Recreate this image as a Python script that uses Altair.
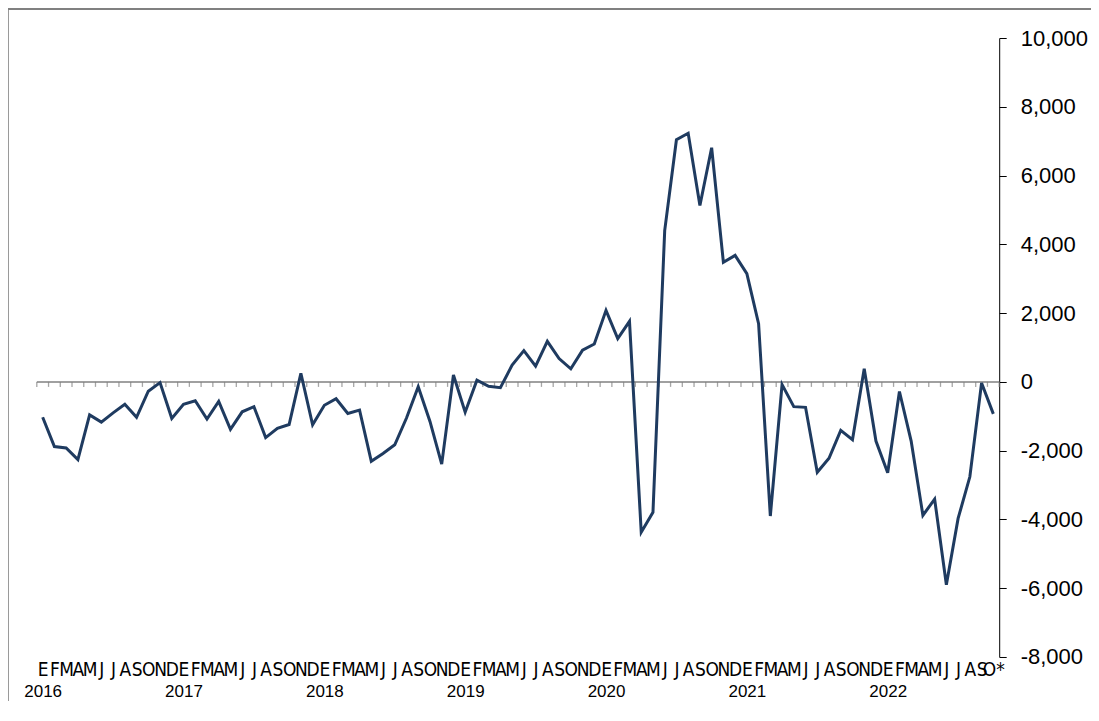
import json
import altair as alt
import pandas as pd

# ---- data ----
meses = ["E", "F", "M", "A", "M", "J", "J", "A", "S", "O", "N", "D"]
anios = ["2016", "2017", "2018", "2019", "2020", "2021", "2022"]

v2016 = [-1030, -1880, -1920, -2260, -960, -1170, -900, -650, -1030, -270, -20, -1060]
v2017 = [-650, -550, -1080, -570, -1380, -870, -720, -1620, -1350, -1240, 250, -1250]
v2018 = [-680, -490, -920, -820, -2310, -2080, -1830, -1050, -140, -1150, -2390, 200]
v2019 = [-880, 50, -130, -170, 490, 910, 460, 1180, 680, 380, 920, 1100]
v2020 = [2080, 1260, 1760, -4370, -3790, 4400, 7040, 7230, 5130, 6810, 3480, 3680]
v2021 = [3150, 1690, -3900, -80, -720, -740, -2630, -2220, -1410, -1680, 380, -1720]
v2022 = [-2640, -280, -1720, -3880, -3410, -5900, -3970, -2760, -30, -930]

valores = v2016 + v2017 + v2018 + v2019 + v2020 + v2021 + v2022
n = len(valores)
etiquetas = (meses * 7)[:n]
etiquetas[-1] = "O*"

y_ticks = [-8000, -6000, -4000, -2000, 0, 2000, 4000, 6000, 8000, 10000]

df = pd.DataFrame({"i": list(range(n)), "valor": valores, "mes": etiquetas})
bordes = pd.DataFrame({"b": [k - 0.5 for k in range(n + 1)]})

# ---- styling ----
W, H = 962.4, 619
LINE_COLOR = "#1f3b60"
GRAY = "#808080"
FONT = "Liberation Sans"
NARROW = "Liberation Sans Narrow, DejaVu Sans Condensed, Liberation Sans"

xscale = alt.Scale(domain=[-0.5, n - 0.5], nice=False, zero=False)
yscale = alt.Scale(domain=[y_ticks[0], y_ticks[-1]], nice=False, zero=False)

month_axis = alt.Axis(
    orient="bottom", values=list(range(n)),
    labelExpr=f"{json.dumps(etiquetas)}[datum.value]",
    domain=False, ticks=False, tickSize=0, grid=False, title=None,
    labelPadding=4, labelFont=NARROW, labelFontSize=19, labelColor="black",
    labelOverlap=False, labelBound=False, labelFlush=False,
)
year_axis = alt.Axis(
    orient="bottom", values=[12 * k for k in range(len(anios))],
    labelExpr=f"{json.dumps(anios)}[floor(datum.value/12)]",
    domain=False, ticks=False, tickSize=0, grid=False, title=None,
    labelPadding=27, labelFont=FONT, labelFontSize=17, labelColor="black",
    labelOverlap=False, labelBound=False, labelFlush=False,
)
y_axis = alt.Axis(
    orient="right", values=y_ticks, format=",.0f",
    labelExpr="replace(datum.label, '\u2212', '-')",
    title=None, grid=False,
    domainColor="black", domainWidth=1, tickColor="black", tickWidth=1,
    tickSize=7, labelPadding=14, labelFont=FONT, labelFontSize=22,
    labelColor="black", labelAlign="left",
)

linea = alt.Chart(df).mark_line(color=LINE_COLOR, strokeWidth=3, strokeJoin="miter").encode(
    x=alt.X("i:Q", scale=xscale, axis=month_axis),
    y=alt.Y("valor:Q", scale=yscale, axis=y_axis),
)

cero = alt.Chart(alt.Data(values=[{}])).mark_rule(color=GRAY, strokeWidth=1.5).encode(
    x=alt.datum(-0.5, axis=None),
    x2=alt.datum(n - 0.5),
    y=alt.datum(0, scale=yscale, axis=y_axis),
)

marcas = alt.Chart(bordes).mark_tick(
    color=GRAY, orient="vertical", size=5, thickness=1.3, yOffset=2.5
).encode(
    x=alt.X("b:Q", scale=xscale, axis=year_axis),
    y=alt.datum(0, scale=yscale, axis=y_axis),
)

marco_sup = alt.Chart(alt.Data(values=[{}])).mark_rule(color=GRAY, strokeWidth=2).encode(
    x=alt.value(-30), x2=alt.value(W + 200), y=alt.value(-29)
)
marco_izq = alt.Chart(alt.Data(values=[{}])).mark_rule(color=GRAY, strokeWidth=2).encode(
    x=alt.value(-29), y=alt.value(-30), y2=alt.value(H + 200)
)

chart = (
    alt.layer(marco_sup, marco_izq, cero, marcas, linea)
    .resolve_axis(x="independent")
    .properties(
        width=W, height=H,
        autosize=alt.AutoSizeParams(type="none"),
        padding={"left": 28.8, "top": 30, "right": 91.5, "bottom": 44},
        background="white",
        title=alt.TitleParams("Millones de dólares", font=FONT, fontSize=18,
                              fontWeight="normal", frame="group", offset=36),
    )
    .configure_view(strokeWidth=0, stroke="transparent")
)

chart.save("out.html", embed_options={"renderer": "svg", "actions": False})
